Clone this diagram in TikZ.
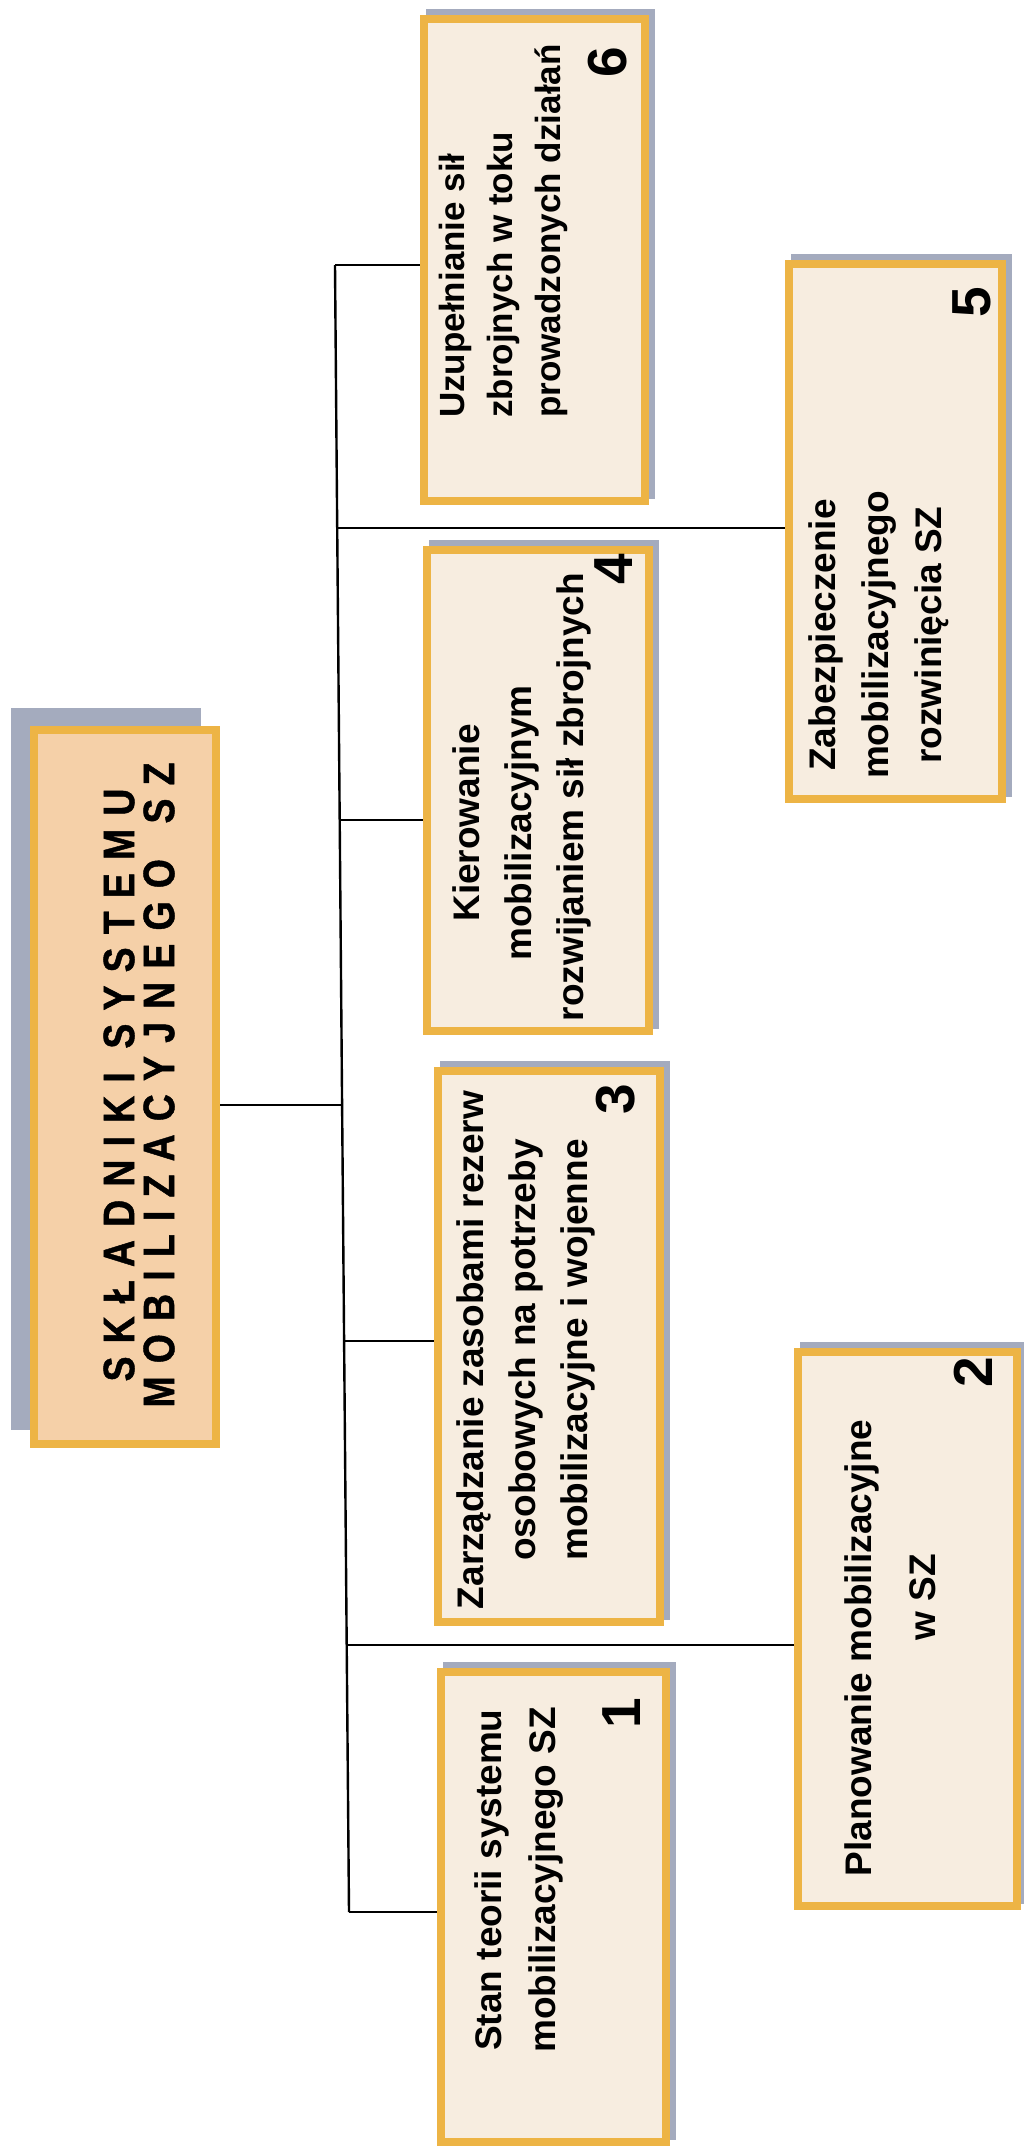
\documentclass[tikz,border=0pt]{standalone}
\usepackage{fontspec}
\setmainfont{Liberation Sans}
\newfontfamily\titlefont[FakeStretch=0.85,LetterSpace=30,BoldFeatures={FakeBold=1}]{Liberation Sans}
\usetikzlibrary{backgrounds}
\definecolor{boxborder}{HTML}{EDB445}
\definecolor{boxfill}{HTML}{F7EDE0}
\definecolor{titlefill}{HTML}{F5D0A8}
\definecolor{shadowc}{HTML}{A4ABBE}
\begin{document}
\begin{tikzpicture}[x=1pt,y=-1pt,
  box/.style={draw=boxborder, line width=8pt, fill=boxfill, inner sep=0pt,
    preaction={fill=shadowc, draw=shadowc, transform canvas={shift={(6pt,6pt)}}}},
  titlebox/.style={draw=boxborder, line width=8pt, fill=titlefill, inner sep=0pt,
    preaction={fill=shadowc, draw=shadowc, transform canvas={shift={(-19pt,18pt)}}}},
  txt/.style={rotate=90, font=\bfseries\fontsize{37}{52}\selectfont, align=center, inner sep=0pt},
  num/.style={rotate=90, font=\bfseries\fontsize{55}{60}\selectfont, inner sep=0pt},
  ttl/.style={rotate=90, font=\titlefont\bfseries\fontsize{44}{40}\selectfont, align=center, inner sep=0pt},
  conn/.style={draw=black, line width=2.4pt}]
\useasboundingbox (0,0) rectangle (1024,2149);

% title
\node[titlebox, minimum width=182pt, minimum height=714pt] (t) at (125,1087) {};
\node[ttl] (tt) at (139,1085) {SKŁADNIKI SYSTEMU\\MOBILIZACYJNEGO\hspace{12pt} SZ};

% boxes
\node[box, minimum width=221pt, minimum height=482pt] (b6) at (534.5,260) {};
\node[box, minimum width=213pt, minimum height=535pt] (b5) at (895.5,531.5) {};
\node[box, minimum width=222pt, minimum height=481pt] (b4) at (538,790.5) {};
\node[box, minimum width=222pt, minimum height=551pt] (b3) at (549,1346.5) {};
\node[box, minimum width=219pt, minimum height=554pt] (b2) at (907.5,1629) {};
\node[box, minimum width=225pt, minimum height=470pt] (b1) at (553.5,1907) {};

% texts
\node[txt, align=left, anchor=west, font=\bfseries\fontsize{35}{48}\selectfont] (x6) at (503,418) {Uzupełnianie sił\\zbrojnych w toku\\prowadzonych działań};
\node[txt, font=\bfseries\fontsize{37}{53}\selectfont] (x5) at (879,635) {Zabezpieczenie\\mobilizacyjnego\\rozwinięcia SZ};
\node[txt] (x4) at (522,797) {Kierowanie\rule{52pt}{0pt}\\mobilizacyjnym\rule{52pt}{0pt}\\rozwijaniem sił zbrojnych};
\node[txt] (x3) at (526,1350) {Zarządzanie zasobami rezerw\\osobowych na potrzeby\\mobilizacyjne i wojenne};
\node[txt, font=\bfseries\fontsize{37}{64}\selectfont] (x2) at (890,1648) {Planowanie mobilizacyjne\\\rule{102pt}{0pt}w SZ};
\node[txt, font=\bfseries\fontsize{37}{54}\selectfont] (x1) at (519,1880) {Stan teorii systemu\\mobilizacyjnego SZ};

% numbers
\node[num] (n6) at (608,62) {6};
\node[num] (n5) at (972,302) {5};
\node[num] (n4) at (614,569) {4};
\node[num] (n3) at (616,1099) {3};
\node[num] (n2) at (973,1372) {2};
\node[num] (n1) at (622,1713) {1};

% junctions on the trunk
\coordinate (j6) at (335,265);
\coordinate (j5) at (337.2,528);
\coordinate (j4) at (339.7,820);
\coordinate (jt) at (342.1,1105);
\coordinate (j3) at (344.1,1341);
\coordinate (j2) at (346.7,1645);
\coordinate (j1) at (349,1912);

\begin{scope}[on background layer]
\fill[white] (0,0) rectangle (1024,2149);
\draw[conn] (j6) -- (j5) -- (j4) -- (jt) -- (j3) -- (j2) -- (j1);
\draw[conn] (j6) -- (j6 -| b6.west);
\draw[conn] (j5) -- (j5 -| b5.west);
\draw[conn] (j4) -- (j4 -| b4.west);
\draw[conn] (t.east |- jt) -- (jt);
\draw[conn] (j3) -- (j3 -| b3.west);
\draw[conn] (j2) -- (j2 -| b2.west);
\draw[conn] (j1) -- (j1 -| b1.west);
\end{scope}
\end{tikzpicture}
\end{document}
